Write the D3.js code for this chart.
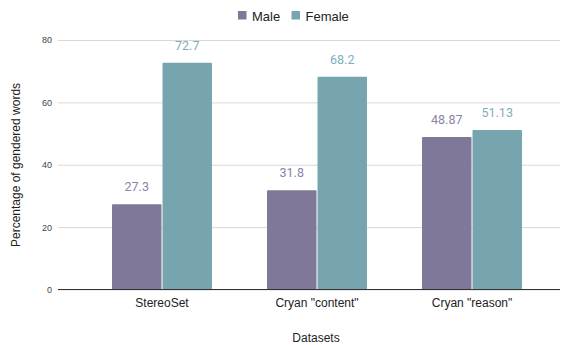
<!DOCTYPE html>
<html>
<head>
<meta charset="utf-8">
<script src="https://cdn.jsdelivr.net/npm/d3@7"></script>
<style>
  html, body { margin: 0; padding: 0; background: #fff; }
  svg { display: block; font-family: "Liberation Sans", Arial, sans-serif; }
</style>
</head>
<body>
<svg id="chart" width="570" height="345"></svg>
<script>
// Share of gendered words per dataset
const categories = ['StereoSet', 'Cryan "content"', 'Cryan "reason"'];
const seriesNames = ["Male", "Female"];
const maleValues = [27.3, 31.8, 48.87];
const femaleValues = [72.7, 68.2, 51.13];
const valueLabels = [["27.3", "31.8", "48.87"], ["72.7", "68.2", "51.13"]];
const yTicks = [0, 20, 40, 60, 80];
const colors = ["#7f7899", "#76a5b0"];

const svg = d3.select("#chart");
const plot = { left: 58, right: 560, top: 40, bottom: 289.5 };

const y = d3.scaleLinear().domain([0, 80]).range([plot.bottom, plot.top]);
const x = d3.scaleBand().domain(categories).range([84.5, 549.5])
  .paddingInner(0.355).paddingOuter(0.1775);
const xs = d3.scaleBand().domain(seriesNames).range([0, x.bandwidth()]).paddingInner(0.02);

// gridlines + tick labels
const yAxis = d3.axisLeft(y).tickValues(yTicks).tickSize(-(plot.right - plot.left)).tickPadding(6);
const gy = svg.append("g").attr("transform", `translate(${plot.left},0)`).call(yAxis);
gy.select(".domain").remove();
gy.selectAll(".tick line").attr("stroke", "#d9d9d9").attr("stroke-width", 1);
gy.selectAll(".tick text").attr("fill", "#444").attr("font-size", 9)
  .attr("font-family", "Liberation Sans, Arial, sans-serif");

// bars
const rows = categories.map((c, i) => ({ cat: c, vals: [maleValues[i], femaleValues[i]], labels: [valueLabels[0][i], valueLabels[1][i]] }));
const groups = svg.append("g").selectAll("g").data(rows).join("g")
  .attr("transform", d => `translate(${x(d.cat)},0)`);

groups.selectAll("rect").data(d => d.vals.map((v, k) => ({ v, k }))).join("rect")
  .attr("x", d => xs(seriesNames[d.k]))
  .attr("width", xs.bandwidth())
  .attr("y", d => y(d.v))
  .attr("height", d => y(0) - y(d.v))
  .attr("rx", 1)
  .attr("fill", d => colors[d.k]);

groups.selectAll("text").data(d => d.vals.map((v, k) => ({ v, k, t: d.labels[k] }))).join("text")
  .attr("x", d => xs(seriesNames[d.k]) + xs.bandwidth() / 2)
  .attr("y", d => y(d.v) - 13)
  .attr("text-anchor", "middle")
  .attr("font-size", 12.5)
  .attr("font-family", "Roboto, sans-serif")
  .attr("fill", d => d.k === 0 ? "#8a83a6" : "#7eaebb")
  .text(d => d.t);

// baseline
svg.append("line").attr("x1", plot.left).attr("x2", plot.right)
  .attr("y1", y(0)).attr("y2", y(0)).attr("stroke", "#333").attr("stroke-width", 1);

// category labels
const xAxis = d3.axisBottom(x).tickSize(0).tickPadding(9);
const gx = svg.append("g").attr("transform", `translate(0,${plot.bottom})`).call(xAxis);
gx.select(".domain").remove();
gx.selectAll(".tick text").attr("fill", "#222").attr("font-size", 12)
  .attr("font-family", "Liberation Sans, Arial, sans-serif");

// axis titles
svg.append("text").attr("x", 316).attr("y", 342).attr("text-anchor", "middle")
  .attr("font-size", 12).attr("fill", "#222").text("Datasets");
svg.append("text").attr("transform", "translate(20,165) rotate(-90)").attr("text-anchor", "middle")
  .attr("font-size", 12).attr("fill", "#222").text("Percentage of gendered words");

// legend
const legend = svg.append("g");
const legendX = [238, 291.5];
seriesNames.forEach((s, i) => {
  legend.append("rect").attr("x", legendX[i]).attr("y", 11).attr("width", 8.5).attr("height", 8.5)
    .attr("fill", colors[i]);
  legend.append("text").attr("x", legendX[i] + 14).attr("y", 20.5).attr("font-size", 13)
    .attr("fill", "#222").text(s);
});
</script>
</body>
</html>
